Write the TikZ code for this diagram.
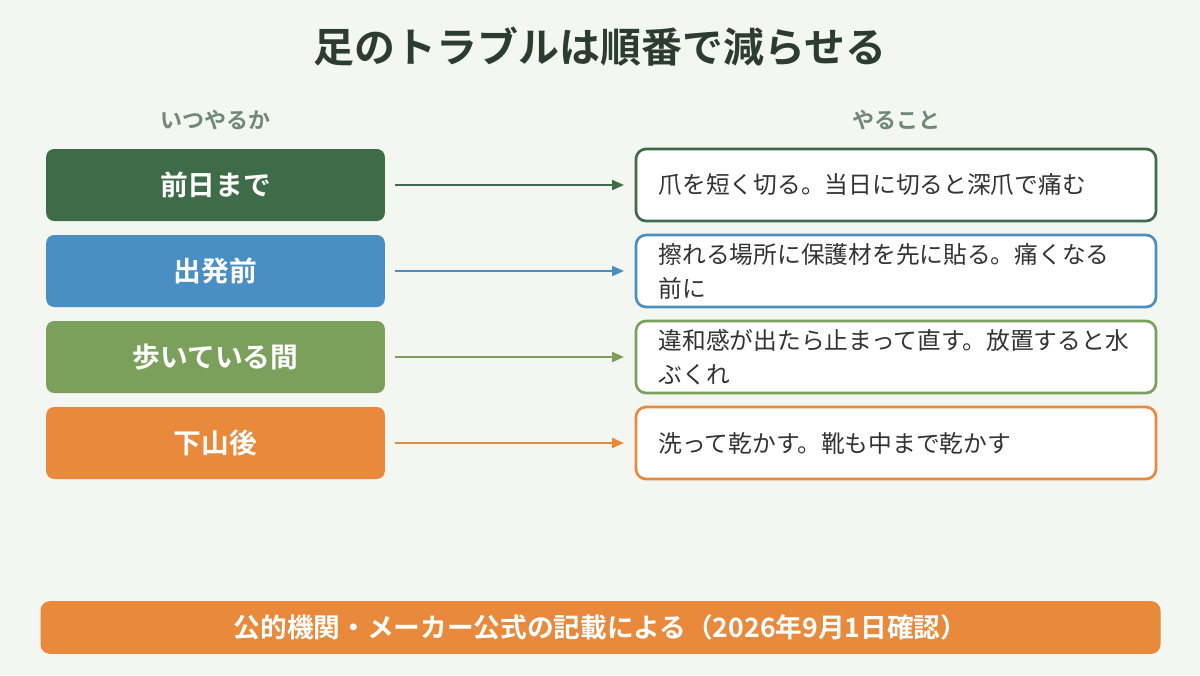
\documentclass[tikz,border=0pt]{standalone}
\usepackage{fontspec}
\setmainfont{Noto Sans CJK JP}
\newfontfamily\jpbold{Noto Sans CJK JP Bold}
\usetikzlibrary{arrows.meta}
\definecolor{bgcol}{HTML}{F4F6F1}
\definecolor{titlecol}{HTML}{2A3D2E}
\definecolor{headcol}{HTML}{6E8A77}
\definecolor{textcol}{HTML}{333333}
\definecolor{darkgreen}{HTML}{3E6B48}
\definecolor{skyblue}{HTML}{4A8FC4}
\definecolor{leafgreen}{HTML}{7BA05B}
\definecolor{carrot}{HTML}{E8893B}

\begin{document}
\begin{tikzpicture}[x=0.75pt,y=-0.75pt,
    whenbox/.style={draw=none,fill=#1,rounded corners=6pt,minimum width=254pt,minimum height=54pt,
        text=white,font=\jpbold\fontsize{20.8}{25}\selectfont},
    whatbox/.style={draw=#1,line width=2pt,fill=white,rounded corners=7.5pt,minimum width=390pt,minimum height=54pt,
        text width=356pt,align=left,text=textcol,font=\fontsize{17.8}{25.5}\selectfont},
    link/.style={draw=#1,line width=1.6pt,-{Triangle[length=9pt,width=7.5pt]}},
    colhead/.style={text=headcol,font=\jpbold\fontsize{16.5}{20}\selectfont}]
  \fill[bgcol] (0,0) rectangle (1200,675);
  \useasboundingbox (0,0) rectangle (1200,675);
  \node[text=titlecol,font=\jpbold\fontsize{30.7}{36}\selectfont] (title) at (600,47) {足のトラブルは順番で減らせる};
  \node[colhead] (whenhead) at (215,120) {いつやるか};
  \node[colhead] (whathead) at (896,120) {やること};
  % rows
  \node[whenbox=darkgreen] (when1) at (215.5,185) {前日まで};
  \node[whatbox=darkgreen] (what1) at (896,185) {爪を短く切る。当日に切ると深爪で痛む};
  \node[whenbox=skyblue] (when2) at (215.5,271) {出発前};
  \node[whatbox=skyblue] (what2) at (896,271) {擦れる場所に保護材を先に貼る。痛くなる\\前に};
  \node[whenbox=leafgreen] (when3) at (215.5,357) {歩いている間};
  \node[whatbox=leafgreen] (what3) at (896,357) {違和感が出たら止まって直す。放置すると水\\ぶくれ};
  \node[whenbox=carrot] (when4) at (215.5,443) {下山後};
  \node[whatbox=carrot] (what4) at (896,443) {洗って乾かす。靴も中まで乾かす};
  \draw[link=darkgreen] ([xshift=7.5pt]when1.east) -- ([xshift=-8pt]what1.west);
  \draw[link=skyblue] ([xshift=7.5pt]when2.east) -- ([xshift=-8pt]what2.west);
  \draw[link=leafgreen] ([xshift=7.5pt]when3.east) -- ([xshift=-8pt]what3.west);
  \draw[link=carrot] ([xshift=7.5pt]when4.east) -- ([xshift=-8pt]what4.west);
  % source note
  \node[fill=carrot,rounded corners=7pt,minimum width=840pt,minimum height=39.5pt,text=white,
      font=\jpbold\fontsize{20}{24}\selectfont] (note) at (600.5,627.5) {公的機関・メーカー公式の記載による（2026年9月1日確認）};
\end{tikzpicture}
\end{document}
